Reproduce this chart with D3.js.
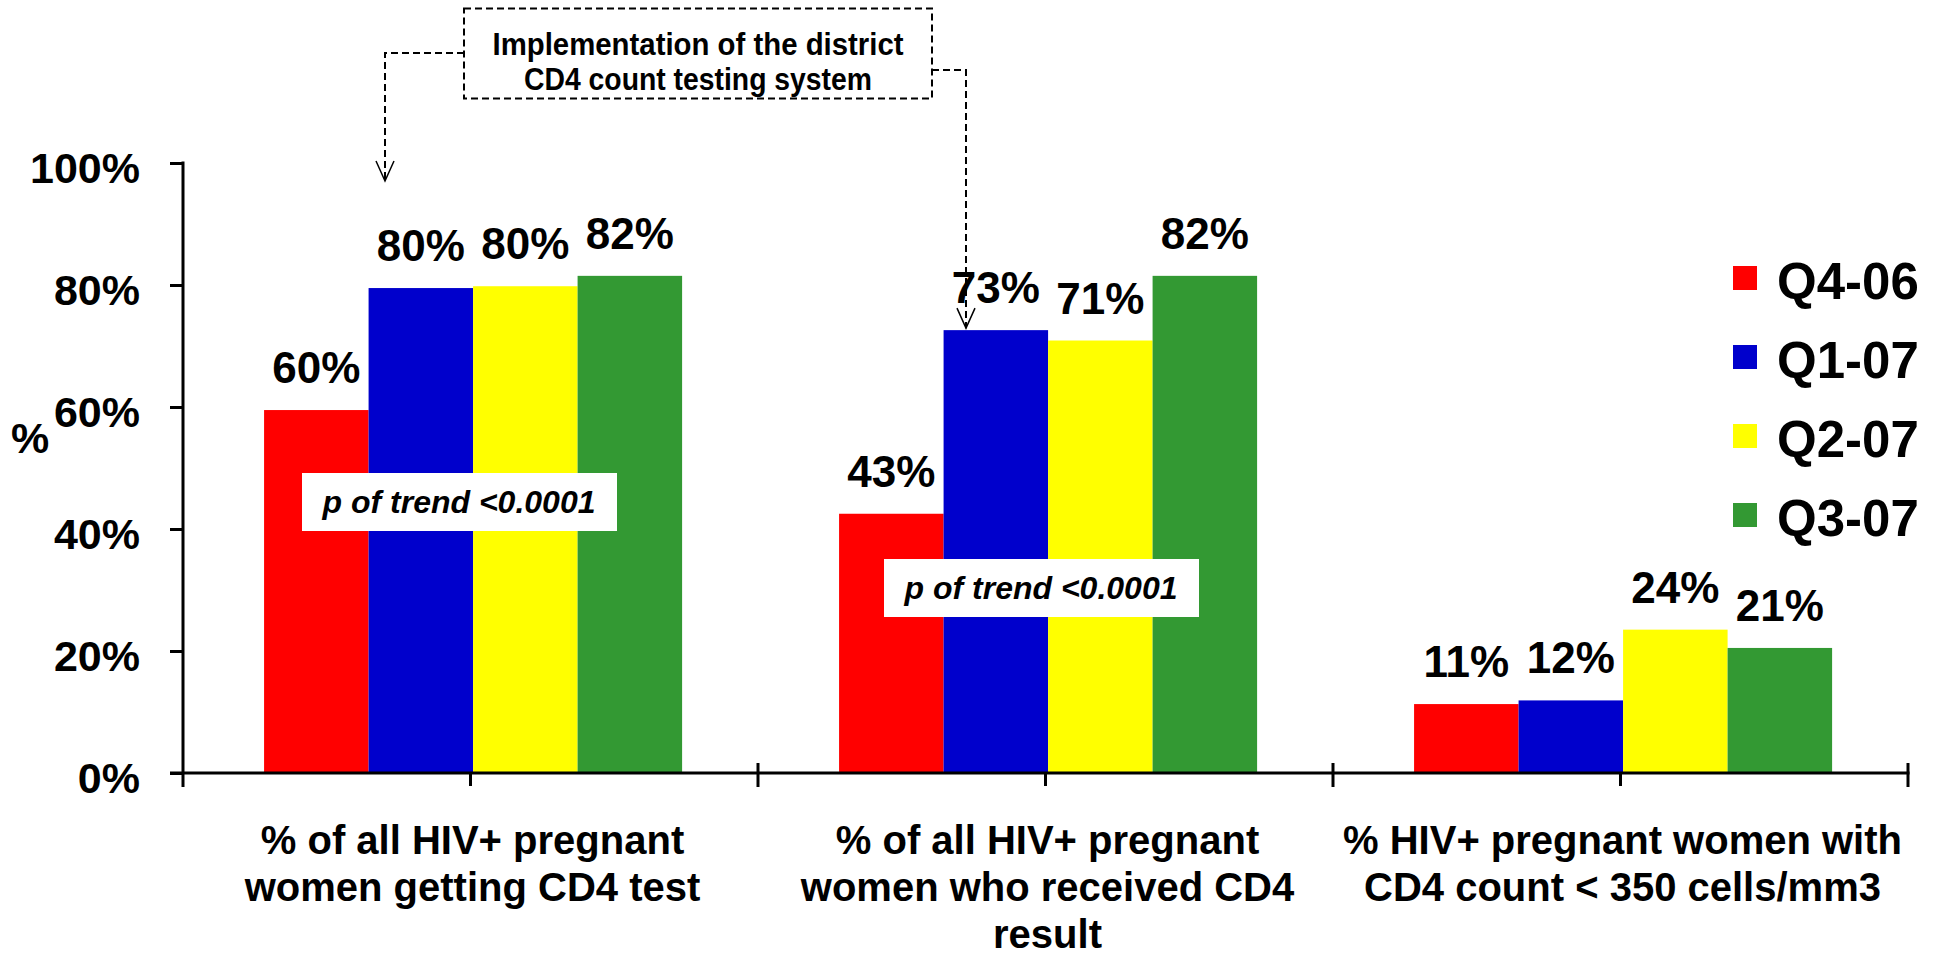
<!DOCTYPE html>
<html>
<head>
<meta charset="utf-8">
<script src="https://cdn.jsdelivr.net/npm/d3@7"></script>
<style>
  html, body { margin: 0; padding: 0; background: #fff; }
  svg { display: block; }
  text { font-family: "Liberation Sans", Arial, sans-serif; font-weight: bold; fill: #000; }
</style>
</head>
<body>
<svg id="chart" width="1933" height="953"></svg>
<script>
// ---- data ----
const categories = [
  ["% of all HIV+ pregnant", "women getting CD4 test"],
  ["% of all HIV+ pregnant", "women who received CD4", "result"],
  ["% HIV+ pregnant women with", "CD4 count < 350 cells/mm3"]
];
const series = ["Q4-06", "Q1-07", "Q2-07", "Q3-07"];
const q4_06 = [59.5, 42.5, 11.3];
const q1_07 = [79.5, 72.6, 11.9];
const q2_07 = [79.8, 70.9, 23.5];
const q3_07 = [81.5, 81.5, 20.5];
const yTicks = [0, 20, 40, 60, 80, 100];
const pTrendText = "p of trend <0.0001";
const annotationLines = ["Implementation of the district", "CD4 count testing system"];

const seriesValues = [q4_06, q1_07, q2_07, q3_07];
const colors = ["#FF0000", "#0000CC", "#FFFF00", "#339933"];

// ---- layout ----
const svg = d3.select("#chart");
const axisX = 183, baseY = 773, topY = 163, rightX = 1908;

const y = d3.scaleLinear().domain([0, 100]).range([baseY, topY]);
const x0 = d3.scaleBand().domain(d3.range(categories.length)).range([axisX, rightX]).padding(0);
const bw = x0.bandwidth();
const x1 = d3.scaleBand().domain(series).range([bw * 0.141, bw * 0.868]).padding(0);

// bars
const groups = svg.append("g").selectAll("g")
  .data(categories.map((c, i) => i))
  .join("g")
  .attr("transform", i => `translate(${x0(i)},0)`);

groups.selectAll("rect")
  .data(i => series.map((s, k) => ({ s, k, v: seriesValues[k][i] })))
  .join("rect")
  .attr("x", d => x1(d.s))
  .attr("width", x1.bandwidth())
  .attr("y", d => y(d.v))
  .attr("height", d => baseY - y(d.v))
  .attr("fill", d => colors[d.k]);

groups.selectAll("text.val")
  .data(i => series.map((s, k) => ({ s, k, v: seriesValues[k][i] })))
  .join("text")
  .attr("class", "val")
  .attr("x", d => x1(d.s) + x1.bandwidth() / 2)
  .attr("y", d => y(d.v) - 27)
  .attr("text-anchor", "middle")
  .style("font-size", "44px")
  .text(d => Math.round(d.v) + "%");

// y axis
const yAxis = d3.axisLeft(y).tickValues(yTicks).tickFormat(d => d + "%").tickSize(13).tickPadding(30);
const gy = svg.append("g").attr("transform", `translate(${axisX},0)`).call(yAxis);
gy.select(".domain").remove();
gy.selectAll(".tick line").attr("stroke", "#000").attr("stroke-width", 3);
gy.selectAll(".tick text").style("font-size", "43px").style("font-family", "'Liberation Sans', Arial, sans-serif")
  .style("font-weight", "bold").attr("fill", "#000").attr("dy", "0.45em");
svg.append("line").attr("x1", axisX).attr("x2", axisX).attr("y1", topY - 1.5).attr("y2", baseY + 14)
  .attr("stroke", "#000").attr("stroke-width", 3);

// x axis
svg.append("line").attr("x1", axisX - 13).attr("x2", rightX + 1.5).attr("y1", baseY).attr("y2", baseY)
  .attr("stroke", "#000").attr("stroke-width", 3);
const boundaries = d3.range(categories.length + 1).map(i => i < categories.length ? x0(i) : x0(i - 1) + bw);
svg.append("g").selectAll("line.b").data(boundaries.slice(1)).join("line")
  .attr("x1", d => d).attr("x2", d => d).attr("y1", baseY - 10).attr("y2", baseY + 14)
  .attr("stroke", "#000").attr("stroke-width", 3);
svg.append("g").selectAll("line.c").data(d3.range(categories.length)).join("line")
  .attr("x1", i => x0(i) + bw / 2).attr("x2", i => x0(i) + bw / 2)
  .attr("y1", baseY).attr("y2", baseY + 13)
  .attr("stroke", "#000").attr("stroke-width", 3);

// category labels
const cat = svg.append("g").selectAll("text").data(categories).join("text")
  .attr("text-anchor", "middle")
  .style("font-size", "40px")
  .attr("transform", (d, i) => `translate(${x0(i) + bw / 2 + 2},854)`);
cat.selectAll("tspan").data(d => d).join("tspan")
  .attr("x", 0).attr("y", (d, j) => j * 47).text(d => d);

// y title
svg.append("text").attr("x", 30).attr("y", 453).attr("text-anchor", "middle")
  .style("font-size", "43px").text("%");

// legend
const lg = svg.append("g").selectAll("g").data(series).join("g")
  .attr("transform", (d, k) => `translate(1733,${266 + k * 79})`);
lg.append("rect").attr("width", 24).attr("height", 24).attr("fill", (d, k) => colors[k]);
lg.append("text").attr("x", 44).attr("y", 33).style("font-size", "51px").text(d => d);

// p of trend boxes
const pBoxes = [[302, 473], [884, 559]];
pBoxes.forEach(([bx, by]) => {
  svg.append("rect").attr("x", bx).attr("y", by).attr("width", 315).attr("height", 58).attr("fill", "#fff");
  svg.append("text").attr("x", bx + 157).attr("y", by + 40).attr("text-anchor", "middle")
    .style("font-size", "31px").style("font-style", "italic")
    .attr("textLength", 273).attr("lengthAdjust", "spacingAndGlyphs")
    .text(pTrendText);
});

// annotation box with arrows
const dash = "7,4";
svg.append("rect").attr("x", 464).attr("y", 8.5).attr("width", 468).attr("height", 90)
  .attr("fill", "none").attr("stroke", "#000").attr("stroke-width", 2).attr("stroke-dasharray", dash);
const annW = [411, 348];
svg.append("g").selectAll("text").data(annotationLines).join("text")
  .attr("x", 698).attr("y", (d, j) => 55 + j * 35)
  .attr("text-anchor", "middle")
  .style("font-size", "32px")
  .attr("textLength", (d, j) => annW[j]).attr("lengthAdjust", "spacingAndGlyphs")
  .text(d => d);

const arrows = [
  [[464, 53], [385, 53], [385, 181]],
  [[932, 70], [966, 70], [966, y(q1_07[1]) - 2]]
];
arrows.forEach(pts => {
  svg.append("path").attr("d", d3.line()(pts)).attr("fill", "none").attr("stroke", "#000")
    .attr("stroke-width", 2).attr("stroke-dasharray", dash);
  const [tx, ty] = pts[pts.length - 1];
  svg.append("path").attr("d", `M${tx - 9},${ty - 20}L${tx},${ty}L${tx + 9},${ty - 20}`)
    .attr("fill", "none").attr("stroke", "#000").attr("stroke-width", 1.5);
});
</script>
</body>
</html>
